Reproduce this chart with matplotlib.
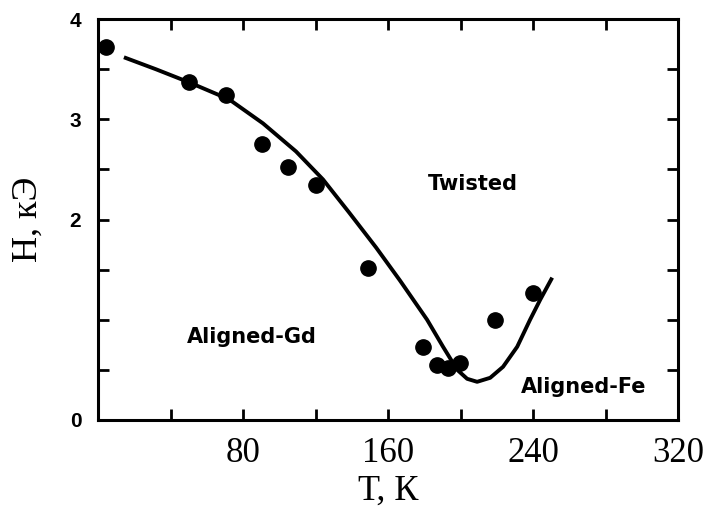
import matplotlib.pyplot as plt
from matplotlib.ticker import MultipleLocator, FixedLocator

# experimental points
T_pts = [4.4, 50.2, 70.6, 90.5, 105.0, 120.0, 149.0, 179.3, 187.0, 193.0, 199.7, 219.0, 240.0]
H_pts = [3.72, 3.37, 3.24, 2.75, 2.52, 2.34, 1.52, 0.73, 0.55, 0.52, 0.57, 1.00, 1.27]

# theory curve
T_fit = [14.3, 32.0, 50.2, 72.3, 91.0, 109.2, 124.1, 138.5, 153.4, 166.6, 181.5,
         190.3, 198.1, 203.6, 209.1, 216.3, 223.4, 231.2, 238.3, 243.9, 250.5]
H_fit = [3.62, 3.50, 3.37, 3.20, 2.96, 2.68, 2.40, 2.07, 1.72, 1.39, 1.00,
         0.73, 0.50, 0.41, 0.38, 0.42, 0.53, 0.73, 1.00, 1.20, 1.42]

y_labels = ["0", "2", "3", "4"]

fig = plt.figure(figsize=(7.05, 5.19), dpi=100)
ax = fig.add_axes([0.139, 0.191, 0.823, 0.772])

ax.plot(T_fit, H_fit, color="black", lw=2.8, solid_capstyle="butt", solid_joinstyle="round")
ax.plot(T_pts, H_pts, "o", color="black", ms=11)

ax.set_xlim(0, 320)
ax.set_ylim(0, 4)

ax.xaxis.set_major_locator(FixedLocator([80, 160, 240, 320]))
ax.xaxis.set_minor_locator(MultipleLocator(40))
ax.yaxis.set_major_locator(FixedLocator([0, 2, 3, 4]))
ax.yaxis.set_minor_locator(MultipleLocator(0.5))
ax.set_yticklabels(y_labels)

ax.tick_params(which="both", direction="in", top=True, right=True, width=2, length=8)
ax.tick_params(axis="x", labelsize=25, pad=12)
ax.tick_params(axis="y", labelsize=15, pad=12)
for lab in ax.get_xticklabels():
    lab.set_family("Liberation Serif")
for lab in ax.get_yticklabels():
    lab.set_family("Liberation Sans")
    lab.set_fontweight("bold")

for s in ax.spines.values():
    s.set_linewidth(2.2)

ax.set_xlabel("Т, К", family="Liberation Serif", fontsize=26, labelpad=4)
ax.set_ylabel("Н, кЭ", family="Liberation Serif", fontsize=26, labelpad=18)

ax.text(207, 2.35, "Twisted", fontsize=15, fontweight="bold", family="DejaVu Sans",
        ha="center", va="center")
ax.text(85, 0.83, "Aligned-Gd", fontsize=15, fontweight="bold", family="DejaVu Sans",
        ha="center", va="center")
ax.text(267.6, 0.33, "Aligned-Fe", fontsize=15, fontweight="bold", family="DejaVu Sans",
        ha="center", va="center")

plt.savefig("out.png", dpi=100)
